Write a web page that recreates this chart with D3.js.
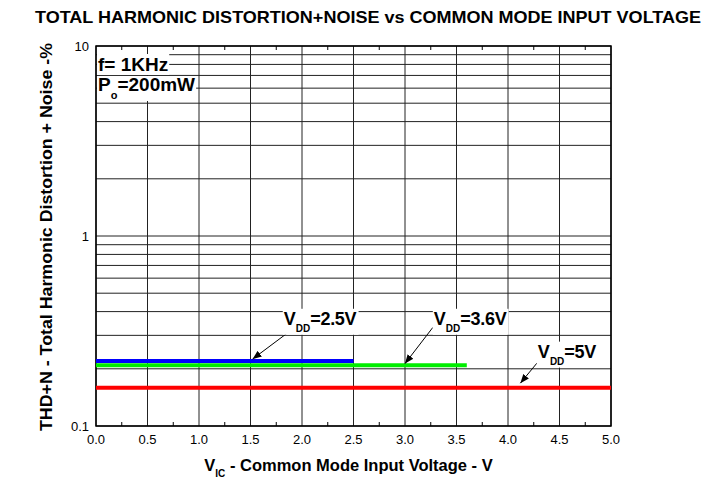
<!DOCTYPE html>
<html>
<head>
<meta charset="utf-8">
<script src="https://cdn.jsdelivr.net/npm/d3@7"></script>
<style>
  body { margin: 0; background: #fff; }
  text { font-family: "Liberation Sans", Arial, sans-serif; }
  .grid line { stroke: #222; stroke-width: 1; }
</style>
</head>
<body>
<svg width="716" height="483"></svg>
<script>
// data
var series = ['VDD=2.5V', 'VDD=3.6V', 'VDD=5V'];
var vddLabels = ['2.5V', '3.6V', '5V'];
var colors = ['#0000ff', '#00ee00', '#ff0000'];
var xStart = [0, 0, 0];
var xEnd = [2.5, 3.6, 5.0];
var thd = [0.22, 0.209, 0.159];
var xTicks = [0, 0.5, 1, 1.5, 2, 2.5, 3, 3.5, 4, 4.5, 5];
var yTicks = [0.1, 1, 10];

var svg = d3.select('svg');
var margin = {top: 46, right: 105, bottom: 57, left: 96};
var width = 716 - margin.left - margin.right,
    height = 483 - margin.top - margin.bottom;

var x = d3.scaleLinear().domain([0, 5]).range([0, width]);
var y = d3.scaleLog().domain([0.1, 10]).range([height, 0]);

var g = svg.append('g')
    .attr('transform', 'translate(' + margin.left + ',' + margin.top + ')');

// grid
var minorY = [];
[0.1, 1].forEach(function(d) {
    for (var k = 2; k <= 9; k++) minorY.push(d * k);
});
var grid = g.append('g').attr('class', 'grid');
grid.selectAll('.hy').data(minorY.concat(yTicks)).enter().append('line')
    .attr('x1', 0).attr('x2', width)
    .attr('y1', function(d) { return y(d); })
    .attr('y2', function(d) { return y(d); });
grid.selectAll('.vx').data(xTicks).enter().append('line')
    .attr('y1', 0).attr('y2', height)
    .attr('x1', function(d) { return x(d); })
    .attr('x2', function(d) { return x(d); });

// minor ticks top and bottom (0.25 steps)
var minorX = d3.range(0.25, 5, 0.5);
g.selectAll('.mtb').data(minorX).enter().append('line')
    .attr('x1', function(d) { return x(d); }).attr('x2', function(d) { return x(d); })
    .attr('y1', height).attr('y2', height - 4)
    .attr('stroke', '#000');
g.selectAll('.mtt').data(minorX).enter().append('line')
    .attr('x1', function(d) { return x(d); }).attr('x2', function(d) { return x(d); })
    .attr('y1', 0).attr('y2', 4)
    .attr('stroke', '#000');

// frame
g.append('rect').attr('width', width).attr('height', height)
    .attr('fill', 'none').attr('stroke', '#000').attr('stroke-width', 1.5);

// tick labels
g.selectAll('.xl').data(xTicks).enter().append('text')
    .attr('x', function(d) { return x(d); })
    .attr('y', height + 18)
    .attr('text-anchor', 'middle')
    .attr('font-size', 13)
    .text(function(d) { return d.toFixed(1); });
g.selectAll('.yl').data(yTicks).enter().append('text')
    .attr('x', -7)
    .attr('y', function(d) { return y(d) + 5; })
    .attr('text-anchor', 'end')
    .attr('font-size', 13)
    .text(function(d) { return d; });

// data lines
var line = d3.line()
    .x(function(d) { return x(d[0]); })
    .y(function(d) { return y(d[1]); });
series.forEach(function(s, i) {
    g.append('path')
        .datum([[xStart[i], thd[i]], [xEnd[i], thd[i]]])
        .attr('fill', 'none')
        .attr('stroke', colors[i])
        .attr('stroke-width', 4)
        .attr('d', line);
});

// annotations
var defs = svg.append('defs');
defs.append('marker').attr('id', 'arr')
    .attr('viewBox', '0 0 10 10').attr('refX', 10).attr('refY', 5)
    .attr('markerWidth', 9).attr('markerHeight', 9).attr('orient', 'auto')
    .append('path').attr('d', 'M0,1 L10,5 L0,9 z').attr('fill', '#000');

function vddLabel(px, py, val) {
    var t = g.append('g').attr('transform', 'translate(' + px + ',' + py + ')');
    var bg = t.append('rect').attr('fill', '#fff');
    var txt = t.append('text').attr('font-size', 18).attr('font-weight', 'bold');
    txt.append('tspan').text('V');
    txt.append('tspan').attr('font-size', 10).attr('dy', 7).text('DD');
    txt.append('tspan').attr('dy', -7).attr('letter-spacing', -0.3).text('=' + val);
    var bb = txt.node().getBBox();
    bg.attr('x', bb.x - 1).attr('y', bb.y).attr('width', bb.width + 3).attr('height', bb.height + 1);
}
// label anchors in data space: [x, y] and arrow [from, to]
var labelPos = [[1.823, 0.341], [3.28, 0.341], [4.29, 0.229]];
var arrowFrom = [[1.93, 0.33], [3.27, 0.33], [4.28, 0.214]];
var arrowTo = [[1.52, 0.225], [3.0, 0.213], [4.12, 0.168]];
vddLabels.forEach(function(v, i) {
    g.append('line')
        .attr('x1', x(arrowFrom[i][0])).attr('y1', y(arrowFrom[i][1]))
        .attr('x2', x(arrowTo[i][0])).attr('y2', y(arrowTo[i][1]))
        .attr('stroke', '#000').attr('stroke-width', 1)
        .attr('marker-end', 'url(#arr)');
    vddLabel(x(labelPos[i][0]), y(labelPos[i][1]), v);
});

// conditions box
var cond = g.append('g').attr('transform', 'translate(2,25)');
var c1 = cond.append('text').attr('font-size', 19).attr('font-weight', 'bold').text('f= 1KHz');
var b1 = c1.node().getBBox();
cond.insert('rect', 'text').attr('x', b1.x - 1).attr('y', b1.y).attr('width', b1.width + 2).attr('height', b1.height).attr('fill', '#fff');
var c2 = cond.append('text').attr('y', 20).attr('font-size', 19).attr('font-weight', 'bold');
c2.append('tspan').text('P');
c2.append('tspan').attr('font-size', 11).attr('dy', 8).text('o');
c2.append('tspan').attr('dy', -8).text('=200mW');
var b2 = c2.node().getBBox();
cond.insert('rect', 'text').attr('x', b2.x - 1).attr('y', b2.y + 2).attr('width', b2.width + 2).attr('height', b2.height - 2).attr('fill', '#fff');

// title and axis titles
svg.append('text')
    .attr('x', 35).attr('y', 23)
    .attr('font-size', 16.5).attr('font-weight', 'bold')
    .attr('textLength', 666).attr('lengthAdjust', 'spacingAndGlyphs')
    .text('TOTAL HARMONIC DISTORTION+NOISE vs COMMON MODE INPUT VOLTAGE');

var xt = svg.append('text')
    .attr('x', margin.left + width / 2 - 5).attr('y', 471)
    .attr('text-anchor', 'middle')
    .attr('font-size', 16.5).attr('font-weight', 'bold');
xt.append('tspan').text('V');
xt.append('tspan').attr('font-size', 10).attr('dy', 6).text('IC');
xt.append('tspan').attr('dy', -6).text(' - Common Mode Input Voltage - V');

svg.append('text')
    .attr('transform', 'translate(52,' + 237 + ') rotate(-90)')
    .attr('text-anchor', 'middle')
    .attr('font-size', 17).attr('font-weight', 'bold')
    .attr('textLength', 388).attr('lengthAdjust', 'spacingAndGlyphs')
    .text('THD+N - Total Harmonic Distortion + Noise -%');
</script>
</body>
</html>
